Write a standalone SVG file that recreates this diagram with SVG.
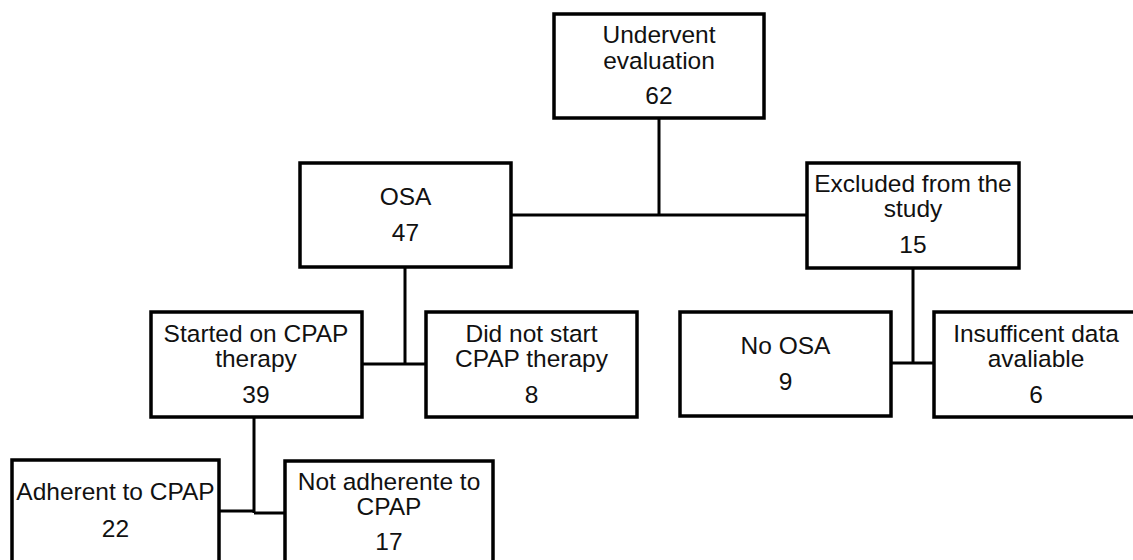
<svg xmlns="http://www.w3.org/2000/svg" width="1133" height="560" viewBox="0 0 1133 560">
<style>
.box{fill:#fff;stroke:#000;stroke-width:3.5}
.ln{fill:none;stroke:#000;stroke-width:3}
text{font-family:"Liberation Sans",Arial,sans-serif;font-size:24.5px;fill:#111;text-anchor:middle}
</style>
<rect width="1133" height="560" fill="#fff"/>
<g id="connectors">
<path class="ln" d="M659,118 V215 M511,215 H807"/>
<path class="ln" d="M405,267 V364 M362,364 H426"/>
<path class="ln" d="M913,268 V363 M891,363 H934"/>
<path class="ln" d="M254,417 V513 M219,511 H254 M254,513 H285"/>
</g>
<g id="n-undervent">
<rect class="box" x="554" y="14" width="210" height="104"/>
<text x="659" y="43">Undervent</text>
<text x="659" y="69">evaluation</text>
<text x="659" y="104">62</text>
</g>
<g id="n-osa">
<rect class="box" x="300" y="163" width="211" height="104"/>
<text x="405.5" y="205">OSA</text>
<text x="405.5" y="241">47</text>
</g>
<g id="n-excluded">
<rect class="box" x="807" y="163" width="212" height="105"/>
<text x="913" y="192">Excluded from the</text>
<text x="913" y="217">study</text>
<text x="913" y="253">15</text>
</g>
<g id="n-started">
<rect class="box" x="151" y="312" width="211" height="105"/>
<text x="256" y="342">Started on CPAP</text>
<text x="256" y="367">therapy</text>
<text x="256" y="403">39</text>
</g>
<g id="n-notstart">
<rect class="box" x="426" y="312" width="211" height="105"/>
<text x="531.5" y="342">Did not start</text>
<text x="531.5" y="367">CPAP therapy</text>
<text x="531.5" y="403">8</text>
</g>
<g id="n-noosa">
<rect class="box" x="680" y="312" width="211" height="104"/>
<text x="785.5" y="354">No OSA</text>
<text x="785.5" y="390">9</text>
</g>
<g id="n-insufficient">
<rect class="box" x="934" y="312" width="211" height="105"/>
<text x="1036" y="342">Insufficent data</text>
<text x="1036" y="367">avaliable</text>
<text x="1036" y="403">6</text>
</g>
<g id="n-adherent">
<rect class="box" x="12" y="460" width="207" height="120"/>
<text x="115.5" y="500">Adherent to CPAP</text>
<text x="115.5" y="537">22</text>
</g>
<g id="n-notadherent">
<rect class="box" x="285" y="461" width="208" height="120"/>
<text x="389" y="490">Not adherente to</text>
<text x="389" y="515">CPAP</text>
<text x="389" y="550">17</text>
</g>
</svg>
